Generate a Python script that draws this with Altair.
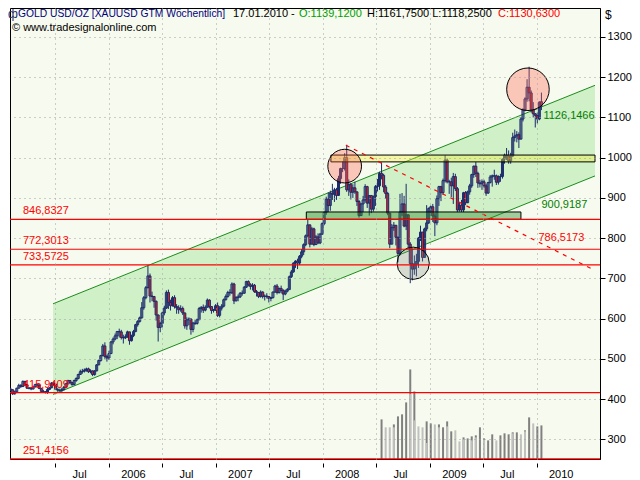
import altair as alt
import pandas as pd

FONT = "Liberation Sans"
NAVY = "#1b2a6b"

# ---------------- weekly OHLC (week-ending Sunday) ----------------
first_bar = "2005-01-30"
first_open = 425.0
last_open = 1139.12

close_2005 = [423,413,418,427,434,431,444,436,427,427,425,430,436,435,426,419,418,416,424,428,440,437,424,422,
              421,424,429,438,446,441,436,446,451,461,468,469,472,475,468,470,461,470,485,496,508,532,506,502]
high_2005 = [428,425,421,428,438,437,446,445,437,430,430,433,438,437,436,428,423,420,428,430,442,443,438,427,
             426,428,432,440,448,447,442,448,454,463,473,475,476,478,478,474,471,472,487,498,510,537,541,510]
low_2005 = [420,410,411,417,426,428,430,433,425,424,422,424,429,430,425,418,415,414,413,422,427,435,423,418,
            419,418,421,428,436,437,433,434,443,449,460,463,466,468,465,464,457,458,469,484,493,506,500,493]

close_2006 = [513,542,549,557,568,567,553,552,555,567,545,558,568,585,593,602,627,652,677,706,656,655,643,609,578,588,
              614,626,665,640,632,652,630,627,622,625,614,582,597,599,573,589,588,597,625,628,621,628,646,630,620,621,632]
high_2006 = [520,544,553,563,569,575,572,560,561,570,566,560,572,587,596,605,641,656,681,732,712,667,653,645,610,592,
             617,632,670,672,647,656,658,636,633,633,630,615,603,603,600,592,596,600,629,631,635,633,650,648,630,624,636]
low_2006 = [497,515,536,546,549,553,548,538,549,552,535,543,554,566,580,590,600,622,648,675,640,643,627,595,543,566,
            578,608,624,624,620,630,625,612,612,617,609,575,572,584,560,566,584,585,597,615,614,618,630,625,612,615,619]

close_2007 = [608,626,631,647,655,665,664,686,644,652,654,663,663,678,692,684,680,683,667,665,655,666,655,656,655,650,
              652,666,681,665,675,670,661,668,672,704,716,738,743,738,755,766,784,806,833,785,823,784,803,788,810,836]
high_2007 = [640,631,636,650,660,669,673,690,689,656,660,666,670,681,694,695,688,688,686,671,665,670,668,660,663,656,
             654,667,684,686,677,682,673,672,676,707,721,740,745,749,758,773,787,809,848,832,828,826,808,812,813,839]
low_2007 = [604,603,620,628,645,652,657,661,636,643,643,651,657,662,676,680,672,670,664,655,651,652,650,645,650,640,
            643,650,664,660,662,663,646,658,665,672,701,714,726,723,733,750,758,780,802,777,786,780,785,785,785,808]

close_2008 = [864,897,881,912,909,920,906,948,973,973,1000,920,933,914,925,915,891,856,885,895,928,887,906,872,903,928,
              930,961,956,927,911,862,785,826,832,802,762,865,885,830,858,785,737,723,735,742,800,815,752,823,838,874]
high_2008 = [866,903,914,918,935,925,925,955,975,991,1011,1032,946,937,934,940,916,895,887,905,934,930,906,900,906,932,
             947,965,988,960,932,915,862,835,840,832,804,910,912,905,935,852,790,775,757,761,803,831,810,826,882,876]
low_2008 = [832,858,865,868,895,890,895,905,935,964,968,915,905,896,900,910,880,851,857,865,888,875,856,862,866,880,
            916,920,946,914,898,857,775,785,818,782,740,757,855,827,820,775,688,695,709,705,726,793,742,768,817,835]

close_2009 = [878,855,838,898,928,913,943,994,940,940,930,953,923,870,882,870,913,888,915,930,958,979,961,937,935,940,
              930,912,938,952,955,955,939,953,953,996,1006,1004,992,1004,1050,1054,1057,1046,1096,1119,1146,1175,1161,1119,1109,1105]
high_2009 = [881,885,862,906,930,930,948,1006,998,945,950,962,960,927,888,895,915,917,918,935,960,980,989,965,945,946,
             945,935,940,957,958,970,958,956,960,998,1010,1024,1018,1012,1062,1070,1066,1063,1101,1123,1150,1195,1226,1167,1138,1111]
low_2009 = [856,840,805,832,880,892,908,938,936,910,902,885,917,865,866,865,865,882,887,908,925,950,952,925,926,920,
            925,905,910,936,928,945,932,933,940,948,985,994,985,985,1002,1040,1038,1024,1046,1090,1115,1139,1140,1112,1100,1075]

close_2010 = [1096, 1138, 1130.63]
high_2010 = [1112, 1140, 1161.75]
low_2010 = [1085, 1093, 1118.25]

close = close_2005 + close_2006 + close_2007 + close_2008 + close_2009 + close_2010
high = high_2005 + high_2006 + high_2007 + high_2008 + high_2009 + high_2010
low = low_2005 + low_2006 + low_2007 + low_2008 + low_2009 + low_2010

# ---------------- volume (every second week) ----------------
vol_start = "2008-07-20"
vol_dark = [43.4, None, None, 37.9, 46.7, 48.9, 62.0, 98.1, 74.0, None, None, 41.2, 39.0, None, 37.9, 34.7, 41.2, 30.3,
            None, None, 23.7, 22.6, 24.8, 25.9, 34.7, 22.6, 20.4, 27.0, None, 25.9, 28.1, 27.0, 29.2, 29.2, None, 31.4,
            45.6, None, 35.7, 36.8]
vol_light = [None, 34.7, 34.7, 34.7, None, None, None, 71.1, 42.3, 35.7, 34.7, 17.5, None, 37.9, 34.7, None, 35.7, None,
             31.4, 19.3, 21.5, None, 20.4, 23.7, None, 21.1, None, None, 20.4, None, None, None, 28.1, None, 27.0, 30.3,
             None, 39.0, None, None]

# ---------------- drawing tools ----------------
level_values = [846.8327, 772.3013, 733.5725, 415.9409, 251.4156]
level_label_date = "2005-03-13"

channel_dates = ["2005-06-24", "2010-01-17", "2010-07-19"]
channel_upper = [636.8, 1126.1466, 1179.8]
channel_lower = [411.5, 900.9187, 954.6]

trend_dates = ["2008-03-20", "2010-01-17", "2010-07-19"]
trend_values = [1031.0, 786.5173, 719.5]

support_box = {"start": "2007-11-06", "end": "2009-11-08", "low": 846.8327, "high": 865.0}
resist_box = {"start": "2008-01-29", "end": "2010-07-19", "low": 989.5, "high": 1006.5}

circle_top08 = {"date": "2008-03-16", "price": 979.0}
circle_low08 = {"date": "2008-11-05", "price": 737.6}
circle_top09 = {"date": "2009-12-02", "price": 1170.0}

header_parts = ["GOLD USD/OZ [XAUUSD GTM  Wöchentlich]", "17.01.2010 -", "O:1139,1200",
                "H:1161,7500 L:1118,2500", "C:1130,6300"]
copyright_text = "© www.tradesignalonline.com"


def de(v):
    return f"{v:.4f}".replace(".", ",")


# ---------------- tables ----------------
dates = pd.date_range(first_bar, periods=len(close), freq="W-SUN")
opens = [first_open] + close[:-1]
opens[-1] = last_open
bars = pd.DataFrame({"date": dates.strftime("%Y-%m-%d"), "open": opens, "high": high, "low": low, "close": close})
bars["high"] = bars[["high", "open", "close"]].max(axis=1)
bars["low"] = bars[["low", "open", "close"]].min(axis=1)

vol = pd.DataFrame({"date": pd.date_range(vol_start, periods=len(vol_dark), freq="2W-SUN").strftime("%Y-%m-%d"),
                    "dark": vol_dark, "light": vol_light})

chan = pd.DataFrame({"date": channel_dates, "upper": channel_upper, "lower": channel_lower})
trend = pd.DataFrame({"date": trend_dates, "value": trend_values})
levels = pd.DataFrame({"value": level_values, "date": level_label_date, "label": [de(v) for v in level_values]})

# ---------------- scales / axes ----------------
xscale = alt.Scale(domain=[alt.DateTime(year=2005, month=2, date=14), alt.DateTime(year=2010, month=7, date=19)])
yscale = alt.Scale(domain=[251, 1372], nice=False, zero=False)

tick_dates = [alt.DateTime(year=y, month=m, date=1) for y, m in
              [(2005, 7), (2006, 1), (2006, 7), (2007, 1), (2007, 7), (2008, 1), (2008, 7), (2009, 1), (2009, 7), (2010, 1)]]
xaxis = alt.Axis(orient="bottom", values=tick_dates, title=None,
                 labelExpr="month(datum.value) == 0 ? timeFormat(datum.value, '%Y') : 'Jul'",
                 tickSize=4, offset=4, domain=False, labelOffset=24, labelPadding=1,
                 grid=True, gridDash=[1, 4], gridColor="#a0a0a0", zindex=1,
                 labelFont=FONT, labelFontSize=11, labelColor="black", tickColor="black")
yaxis = alt.Axis(orient="right", values=list(range(300, 1301, 100)), title=None, format="d",
                 tickSize=5, labelPadding=2, domain=True, domainColor="black",
                 grid=True, gridDash=[1, 4], gridColor="#a0a0a0", zindex=1,
                 labelFont=FONT, labelFontSize=11, labelColor="black", tickColor="black")


def X(field="date"):
    return alt.X(f"{field}:T", scale=xscale, axis=xaxis)


def Y(field):
    return alt.Y(f"{field}:Q", scale=yscale, axis=yaxis)


# ---------------- volume group ----------------
vscale = alt.Scale(domain=[0, 494])
vol_d = alt.Chart(vol).transform_filter("isValid(datum.dark)").mark_bar(size=2, color="#808080", clip=True).encode(
    x=X(), y=alt.Y("dark:Q", scale=vscale, axis=None))
vol_l = alt.Chart(vol).transform_filter("isValid(datum.light)").mark_bar(size=2, color="#c0c0c0", clip=True).encode(
    x=X(), y=alt.Y("light:Q", scale=vscale, axis=None))
vol_group = alt.layer(vol_d, vol_l)

# ---------------- price group ----------------
chan_fill = alt.Chart(chan).mark_area(color="#d0f0c8", clip=True).encode(x=X(), y=Y("lower"), y2="upper:Q")
chan_up = alt.Chart(chan).mark_line(color="#1a8c1a", strokeWidth=1, clip=True).encode(x=X(), y=Y("upper"))
chan_lo = alt.Chart(chan).mark_line(color="#1a8c1a", strokeWidth=1, clip=True).encode(x=X(), y=Y("lower"))

wick = alt.Chart(bars).mark_rule(color=NAVY, strokeWidth=1, clip=True).encode(x=X(), y=Y("low"), y2="high:Q")
body = alt.Chart(bars).mark_bar(size=2, stroke=NAVY, strokeWidth=1, clip=True).encode(
    x=X(), y=Y("open"), y2="close:Q",
    fill=alt.condition("datum.close < datum.open", alt.value("#e8201c"), alt.value("transparent")))


def box(b, fill, op):
    d = pd.DataFrame([b])
    return alt.Chart(d).mark_rect(fill=fill, fillOpacity=op, stroke="black", strokeWidth=1, clip=True).encode(
        x=X("start"), x2="end:T", y=Y("low"), y2="high:Q")


def ring(c, fill, op, size):
    d = pd.DataFrame([c])
    return alt.Chart(d).mark_circle(size=size, fill=fill, fillOpacity=op, opacity=1,
                                    stroke="black", strokeWidth=1).encode(x=X(), y=Y("price"))


level_rules = alt.Chart(levels).mark_rule(color="#ff0000", strokeWidth=1.2).encode(y=Y("value"))
level_text = alt.Chart(levels).mark_text(align="left", baseline="middle", dy=-8, font=FONT, fontSize=11,
                                         color="#ff0000").encode(x=X(), y=Y("value"), text="label:N")
trend_line = alt.Chart(trend).mark_line(color="#ff0000", strokeWidth=1.2, strokeDash=[4, 5], clip=True).encode(
    x=X(), y=Y("value"))

last_date = channel_dates[1]


def right_label(value, color, dx, dy):
    d = pd.DataFrame({"date": [last_date], "value": [value], "label": [de(value)]})
    return alt.Chart(d).mark_text(align="left", baseline="middle", dx=dx, dy=dy, font=FONT, fontSize=11,
                                  color=color).encode(x=X(), y=Y("value"), text="label:N")


def page_text(text, px, py, color, size=11):
    # px, py are given in page pixels; the plot starts at (8, 8)
    d = pd.DataFrame({"t": [text]})
    return alt.Chart(d).mark_text(align="left", baseline="middle", font=FONT, fontSize=size, color=color).encode(
        x=alt.value(px - 8), y=alt.value(py - 8), text="t:N")


texts = [
    page_text("ф", 6, 14, NAVY, 12),
    page_text(header_parts[0], 16, 14, "#000080", 10.3),
    page_text(header_parts[1], 231, 14, "black"),
    page_text(header_parts[2], 297, 14, "#00a000"),
    page_text(header_parts[3], 365, 14, "black"),
    page_text(header_parts[4], 496, 14, "#ff0000"),
    page_text(copyright_text, 10, 28, "black"),
    page_text("$", 603, 15, "black", 12),
]

price_group = alt.layer(
    chan_fill, chan_up, chan_lo,
    wick, body,
    box(support_box, "#2a8c2a", 0.42),
    box(resist_box, "#f0f028", 0.36),
    ring(circle_top08, "#ff5a46", 0.32, 1134),
    ring(circle_low08, "#7a8a7a", 0.28, 1040),
    ring(circle_top09, "#ff5a46", 0.32, 1810),
    level_rules, trend_line, level_text,
    right_label(channel_upper[1], "#008000", 2, 9),
    right_label(channel_lower[1], "#008000", 0, 7),
    right_label(trend_values[1], "#ff0000", -3, -6),
    *texts,
)

chart = alt.layer(vol_group, price_group).resolve_scale(y="independent").properties(
    width=590, height=451, background="white", padding=0,
).configure_view(fill="#f7faee", stroke="black", strokeWidth=1)

chart.save("out.html", embed_options={"renderer": "svg", "actions": False})
